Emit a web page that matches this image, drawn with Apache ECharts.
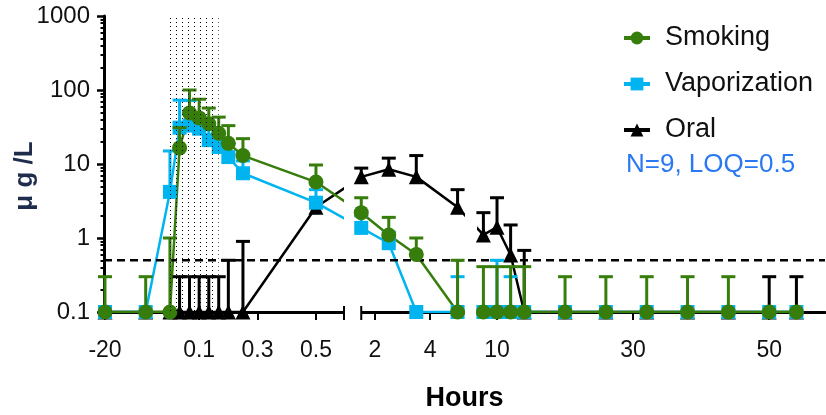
<!DOCTYPE html>
<html lang="en">
<head>
    <meta charset="utf-8" />
    <title>Plasma concentration</title>
    <script src="https://cdn.jsdelivr.net/npm/echarts@6/dist/echarts.min.js"></script>
    <style>
        html, body { margin: 0; background: #FFFFFF; }
        #chart { width: 826px; height: 415px; }
    </style>
</head>
<body>
<div id="chart"></div>
<script>
// sampling times (hours) shared by all three groups
const hours = [-20, -0.083, 0, 0.033, 0.067, 0.1, 0.133, 0.167, 0.2, 0.25, 0.5,
    1.5, 2.5, 3.5, 5, 8, 10, 12, 14, 20, 26, 32, 38, 44, 50, 54];

const smoking      = [0.1, 0.1, 0.1, 16.5, 49, 42, 35, 26, 19, 13, 5.7,
    2.2, 1.1, 0.6, 0.1, 0.1, 0.1, 0.1, 0.1, 0.1, 0.1, 0.1, 0.1, 0.1, 0.1, 0.1];
const smokingUpper = [0.3, 0.3, 1.0, 31, 100, 75, 57, 43, 33, 22, 9.7,
    3.5, 1.9, 1.0, 0.5, 0.41, 0.41, 0.41, 0.41, 0.3, 0.3, 0.3, 0.3, 0.3, null, null];

const vapor      = [0.1, 0.1, 4.2, 31, 33, 30, 21, 17, 12.4, 7.5, 3.0,
    1.37, 0.85, 0.1, 0.1, 0.1, 0.1, 0.1, 0.1, 0.1, 0.1, 0.1, 0.1, 0.1, 0.1, 0.1];
const vaporUpper = [null, null, 15, 73, 72, 45, 32, 27, 19, 11, 4.5,
    2.0, 1.2, null, 0.3, null, 0.5, 0.3, null, null, null, null, null, null, null, null];

const oral      = [0.1, 0.1, 0.1, 0.1, 0.1, 0.1, 0.1, 0.1, 0.1, 0.1, 2.6,
    6.7, 8.5, 6.7, 2.6, 1.1, 1.4, 0.59, 0.1, 0.1, 0.1, 0.1, 0.1, 0.1, 0.1, 0.1];
const oralUpper = [null, null, null, 0.3, 0.3, 0.3, 0.3, 0.3, 0.5, 0.9, null,
    8.8, 12, 13, 4.5, 2.2, 3.5, 1.5, 0.68, null, null, null, null, null, 0.3, 0.3];

const xTickHours  = [-20, 0.1, 0.3, 0.5, 2, 4, 10, 30, 50];
const xTickLabels = ['-20', '0.1', '0.3', '0.5', '2', '4', '10', '30', '50'];
const yTicks      = [0.1, 1, 10, 100, 1000];
const loq = 0.5;
const smokingPeriod = [0, 0.1667];

// broken x axis: [hours, axis position] pieces, gaps are hidden
const axisPieces = [[-20, 1], [-0.083, 41.7], [0.596, 240], [1.5, 257.25],
    [5.27, 361], [7.06, 373], [58.2, 721]];
const axisGaps = [[0.596, 1.5, true], [5.27, 7.06, false]];

function toPos(h) {
    for (let i = 1; i < axisPieces.length; i++) {
        const [h0, p0] = axisPieces[i - 1], [h1, p1] = axisPieces[i];
        if (h <= h1 || i === axisPieces.length - 1) {
            return p0 + (h - h0) * (p1 - p0) / (h1 - h0);
        }
    }
}

const FONT = "'Liberation Sans', Arial, sans-serif";
const GREEN = '#367d0b', BLUE = '#00b4f0', BLACK = '#000000';

const yMinor = [];
[0.1, 1, 10, 100].forEach(function (d) {
    for (let k = 2; k <= 9; k++) yMinor.push(+(d * k).toPrecision(3));
});

const dot = document.createElement('canvas');
dot.width = 6; dot.height = 4;
const g = dot.getContext('2d');
g.fillStyle = '#000';
g.fillRect(2, 2, 1, 1);

function lineSeries(name, values, color, z) {
    return {
        type: 'line', name: name, z: z,
        symbol: name === 'Smoking' ? 'circle' : name === 'Vaporization' ? 'rect' : 'triangle',
        showSymbol: false,
        lineStyle: { color: color, width: 2.5 },
        itemStyle: { color: color },
        data: hours.map((h, i) => [toPos(h), values[i]])
    };
}

function markerSeries(name, values, color, symbol, size, z) {
    return {
        type: 'scatter', name: name + ' points', z: z,
        symbol: symbol, symbolSize: size,
        itemStyle: { color: color, opacity: 1 },
        data: hours.map((h, i) => [toPos(h), values[i]])
    };
}

function errorSeries(name, values, upper, color, z) {
    const data = [];
    hours.forEach(function (h, i) {
        if (upper[i] != null) data.push([toPos(h), values[i], upper[i]]);
    });
    return {
        type: 'custom', name: name + ' SD', z: z,
        encode: { x: 0, y: 1 },
        data: data,
        renderItem: function (params, api) {
            const base = api.coord([api.value(0), api.value(1)]);
            const top = api.coord([api.value(0), api.value(2)]);
            const st = { stroke: color, lineWidth: 3 };
            return {
                type: 'group', children: [
                    { type: 'line', shape: { x1: base[0], y1: base[1], x2: top[0], y2: top[1] }, style: st },
                    { type: 'line', shape: { x1: top[0] - 7, y1: top[1], x2: top[0] + 7, y2: top[1] }, style: st }
                ]
            };
        }
    };
}

const chart = echarts.init(document.getElementById('chart'));

chart.setOption({
    animation: false,
    textStyle: { fontFamily: FONT },
    title: {
        text: 'N=9, LOQ=0.5', left: 626, top: 152, padding: 0,
        textStyle: { color: '#2a78f2', fontSize: 26, fontWeight: 'normal', fontFamily: FONT }
    },
    legend: {
        orient: 'vertical', left: 617, top: 18,
        itemWidth: 26, itemHeight: 16, itemGap: 16,
        data: ['Smoking', 'Vaporization', 'Oral'],
        lineStyle: { width: 4 },
        textStyle: { fontSize: 27, color: '#111', fontFamily: FONT, lineHeight: 30, padding: [0, 0, 0, 10] }
    },
    grid: { left: 104, top: 16, width: 721, height: 296, outerBoundsMode: 'none' },
    xAxis: {
        type: 'value', min: 0, max: 721,
        name: 'Hours', nameLocation: 'middle', nameGap: 73, nameMoveOverlap: false,
        nameTextStyle: { fontSize: 27, fontWeight: 'bold', color: '#000', fontFamily: FONT },
        axisLine: { onZero: false, lineStyle: { color: '#000', width: 3 } },
        axisTick: { length: 8, lineStyle: { color: '#000', width: 2 }, customValues: xTickHours.map(toPos) },
        axisLabel: {
            customValues: xTickHours.map(toPos), margin: 27, fontSize: 23, color: '#111',
            formatter: function (v) {
                const i = xTickHours.findIndex(h => Math.abs(toPos(h) - v) < 0.01);
                return i >= 0 ? xTickLabels[i] : '';
            }
        },
        splitLine: { show: false }
    },
    yAxis: [{
        type: 'log', logBase: 10, min: 0.1, max: 1000,
        axisLine: { show: true, onZero: false, lineStyle: { color: '#000', width: 3 } },
        axisTick: { length: 7, lineStyle: { color: '#000', width: 2.5 }, customValues: yTicks },
        axisLabel: {
            customValues: yTicks, margin: 14, fontSize: 24, color: '#111',
            formatter: v => (v < 1 ? v.toFixed(1) : String(Math.round(v)))
        },
        splitLine: { show: false }
    }, {
        type: 'log', logBase: 10, min: 0.1, max: 1000, position: 'left',
        axisLine: { show: false },
        axisTick: { length: 3.5, lineStyle: { color: '#000', width: 2 }, customValues: yMinor },
        axisLabel: { show: false },
        splitLine: { show: false }
    }],
    graphic: [{
        type: 'text', x: 25, y: 176, rotation: Math.PI / 2,
        style: {
            text: 'μ g /L', fill: '#1f2d4d', font: 'bold 26px ' + FONT,
            textAlign: 'center', textVerticalAlign: 'middle'
        }
    }],
    series: [
        lineSeries('Smoking', smoking, GREEN, 4),
        lineSeries('Vaporization', vapor, BLUE, 3),
        lineSeries('Oral', oral, BLACK, 2),
        {
            // white masks over the axis breaks
            type: 'custom', name: 'breaks', z: 5, silent: true,
            data: axisGaps.map(gp => [toPos(gp[0]), toPos(gp[1]), gp[2] ? 1 : 0]),
            renderItem: function (params, api) {
                const cs = params.coordSys;
                const a = api.coord([api.value(0), 1000]);
                const b = api.coord([api.value(1), 0.1]);
                const kids = [{ type: 'rect', shape: { x: a[0], y: cs.y - 2, width: b[0] - a[0], height: cs.height + 6 }, style: { fill: '#fff' } }];
                if (api.value(2)) {
                    [a[0], b[0]].forEach(function (x) {
                        kids.push({ type: 'line', shape: { x1: x, y1: b[1] - 6, x2: x, y2: b[1] + 8 }, style: { stroke: '#000', lineWidth: 2 } });
                    });
                }
                return { type: 'group', children: kids };
            }
        },
        {
            type: 'custom', name: 'LOQ', z: 6, silent: true,
            data: [[0, loq]],
            renderItem: function (params, api) {
                const cs = params.coordSys;
                const y = api.coord([0, api.value(1)])[1];
                return { type: 'line', shape: { x1: cs.x, y1: y, x2: cs.x + cs.width, y2: y },
                    style: { stroke: '#000', lineWidth: 2.5, lineDash: [8, 5] } };
            }
        },
        errorSeries('Oral', oral, oralUpper, BLACK, 10),
        markerSeries('Oral', oral, BLACK, 'triangle', 15, 11),
        errorSeries('Vaporization', vapor, vaporUpper, BLUE, 12),
        markerSeries('Vaporization', vapor, BLUE, 'rect', 14, 13),
        errorSeries('Smoking', smoking, smokingUpper, GREEN, 14),
        markerSeries('Smoking', smoking, GREEN, 'circle', 15, 15),
        {
            // dotted band: smoking period
            type: 'custom', name: 'period', z: 30, silent: true,
            data: [[toPos(smokingPeriod[0]), toPos(smokingPeriod[1])]],
            renderItem: function (params, api) {
                const a = api.coord([api.value(0), 1000]);
                const b = api.coord([api.value(1), 0.1]);
                return { type: 'rect', shape: { x: a[0], y: a[1], width: b[0] - a[0], height: b[1] - a[1] },
                    style: { fill: { image: dot, repeat: 'repeat' } } };
            }
        }
    ]
});
</script>
</body>
</html>
